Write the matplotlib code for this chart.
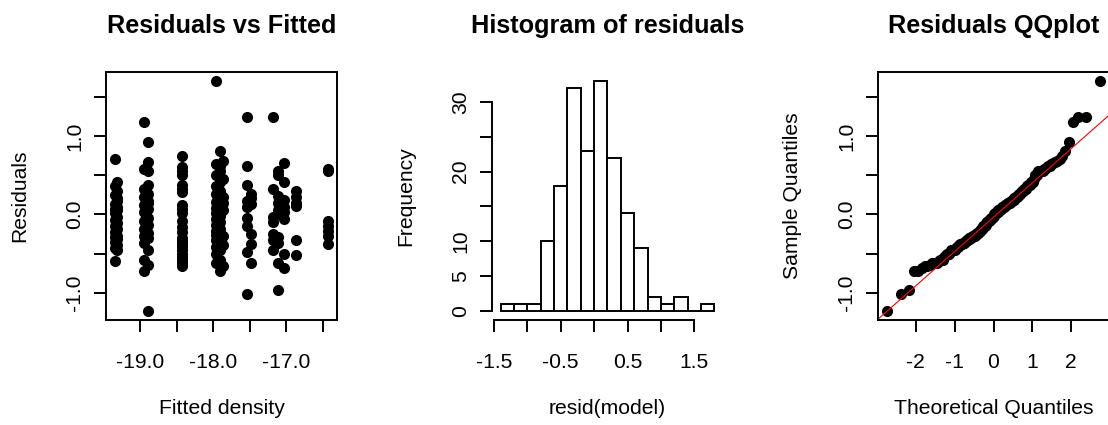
import numpy as np
import matplotlib
matplotlib.use('Agg')
import matplotlib.pyplot as plt
from statistics import NormalDist

# model residuals, grouped by their fitted value
fitted_levels = [-19.35, -19.31, -18.95, -18.89, -18.42, -17.96, -17.90, -17.86,
                 -17.54, -17.48, -17.18, -17.11, -17.03, -16.86, -16.42]
resid_by_level = [
    [0.71, 0.36, 0.25, 0.13, 0.07, 0.02, -0.07, -0.15, -0.23, -0.29, -0.35, -0.43, -0.59],
    [0.41, 0.30, 0.21, 0.17, 0.09, 0.05, -0.03, -0.11, -0.19, -0.27, -0.31, -0.39, -0.46],
    [1.18, 0.58, 0.32, 0.22, 0.12, 0.03, -0.09, -0.18, -0.27, -0.36, -0.58, -0.72],
    [0.93, 0.67, 0.55, 0.37, 0.26, 0.17, 0.15, 0.07, -0.04, -0.14, -0.24, -0.30, -0.45,
     -0.65, -1.23],
    [0.74, 0.61, 0.55, 0.50, 0.38, 0.33, 0.29, 0.12, 0.07, 0.02, -0.08, -0.16, -0.22,
     -0.30, -0.34, -0.38, -0.42, -0.46, -0.50, -0.54, -0.58, -0.62, -0.66],
    [1.70, 0.64, 0.50, 0.36, 0.26, 0.16, 0.08, 0.02, -0.06, -0.14, -0.21, -0.26, -0.33,
     -0.42, -0.50, -0.62],
    [0.81, 0.62, 0.55, 0.42, 0.30, 0.18, 0.11, 0.03, -0.02, -0.10, -0.18, -0.24, -0.30,
     -0.36, -0.46, -0.58, -0.72],
    [0.68, 0.45, 0.22, 0.14, 0.05, -0.27, -0.39, -0.66],
    [1.24, 0.62, 0.37, 0.17, 0.10, -0.05, -0.15, -0.48, -1.02],
    [0.26, 0.21, 0.13, -0.25, -0.38, -0.62],
    [1.24, 0.33, -0.03, -0.10, -0.25, -0.33, -0.45],
    [0.55, 0.50, 0.24, 0.14, 0.06, 0.01, -0.29, -0.37, -0.62, -0.97],
    [0.65, 0.42, 0.18, 0.10, 0.03, -0.06, -0.50, -0.68],
    [0.30, 0.22, 0.15, 0.11, -0.33, -0.52],
    [0.58, 0.55, -0.08, -0.15, -0.21, -0.27, -0.38],
]

hist_breaks = np.linspace(-1.4, 1.8, 17)

resid_ticks = [-1.0, -0.5, 0.0, 0.5, 1.0, 1.5]
resid_labels = ['-1.0', '', '0.0', '', '1.0', '']
fitted_ticks = [-19.0, -18.5, -18.0, -17.5, -17.0, -16.5]
fitted_labels = ['-19.0', '', '-18.0', '', '-17.0', '']
hist_xticks = [-1.5, -1.0, -0.5, 0.0, 0.5, 1.0, 1.5]
hist_xlabels = ['-1.5', '', '-0.5', '', '0.5', '', '1.5']
hist_yticks = [0, 5, 10, 15, 20, 25, 30]
hist_ylabels = ['0', '5', '10', '', '20', '', '30']
qq_ticks = [-2, -1, 0, 1, 2]
qq_labels = ['-2', '-1', '0', '1', '2']

fitted = np.repeat(fitted_levels, [len(r) for r in resid_by_level])
resid = np.concatenate([np.array(r) for r in resid_by_level])

plt.rcParams['font.family'] = ['Liberation Sans', 'DejaVu Sans']

W, H = 1108, 425
fig = plt.figure(figsize=(W / 100, H / 100), dpi=100)
LW = 1.4


def panel(left):
    # every plot region is 231 x 248 px, top edge at y = 72
    return fig.add_axes([left / W, 1 - 320 / H, 231 / W, 248 / H])


def r_range(v):
    lo, hi = min(v), max(v)
    d = 0.04 * (hi - lo)
    return lo - d, hi + d


def base_style(ax, title, xlabel, ylabel):
    ax.set_title(title, fontsize=18.2, fontweight='bold', pad=28)
    ax.tick_params(direction='out', length=8.6, width=LW, labelsize=15.2, colors='black')
    ax.tick_params(axis='x', pad=15.5)
    ax.tick_params(axis='y', pad=7, labelrotation=90)
    for lab in ax.get_yticklabels():
        lab.set_va('center')
    for sp in ax.spines.values():
        sp.set_linewidth(LW)
    ax.set_xlabel(xlabel, fontsize=15.2, va='center')
    ax.set_ylabel(ylabel, fontsize=15.2, va='center')
    ax.xaxis.set_label_coords(0.5, -88 / 248)
    ax.yaxis.set_label_coords(-86 / 231, 0.5)


# residuals vs fitted
ax1 = panel(106)
ax1.scatter(fitted, resid, s=64, c='black', linewidths=0)
ax1.set_xlim(r_range(fitted))
ax1.set_ylim(r_range(resid))
ax1.set_xticks(fitted_ticks, fitted_labels)
ax1.set_yticks(resid_ticks, resid_labels)
base_style(ax1, 'Residuals vs Fitted', 'Fitted density', 'Residuals')

# histogram
ax2 = panel(492)
counts, _, _ = ax2.hist(resid, bins=hist_breaks, facecolor='white', edgecolor='black',
                        linewidth=LW)
ax2.set_xlim(r_range(hist_breaks))
ax2.set_ylim(r_range([0, counts.max()]))
ax2.set_xticks(hist_xticks, hist_xlabels)
ax2.set_yticks(hist_yticks, hist_ylabels)
ax2.spines['top'].set_visible(False)
ax2.spines['right'].set_visible(False)
ax2.spines['bottom'].set_bounds(hist_xticks[0], hist_xticks[-1])
ax2.spines['left'].set_bounds(hist_yticks[0], hist_yticks[-1])
base_style(ax2, 'Histogram of residuals', 'resid(model)', 'Frequency')

# normal QQ plot
n = len(resid)
probs = (np.arange(1, n + 1) - 0.5) / n
theo = np.array([NormalDist().inv_cdf(p) for p in probs])
sample = np.sort(resid)
ax3 = panel(878)
ax3.scatter(theo, sample, s=64, c='black', linewidths=0)
# reference line through the quartiles
q_y = np.quantile(resid, [0.25, 0.75])
q_x = np.array([NormalDist().inv_cdf(0.25), NormalDist().inv_cdf(0.75)])
slope = (q_y[1] - q_y[0]) / (q_x[1] - q_x[0])
ax3.axline((q_x[0], q_y[0]), slope=slope, color='red', linewidth=0.8)
ax3.set_xlim(r_range(theo))
ax3.set_ylim(r_range(sample))
ax3.set_xticks(qq_ticks, qq_labels)
ax3.set_yticks(resid_ticks, resid_labels)
base_style(ax3, 'Residuals QQplot', 'Theoretical Quantiles', 'Sample Quantiles')

fig.savefig('out.png', dpi=100)
